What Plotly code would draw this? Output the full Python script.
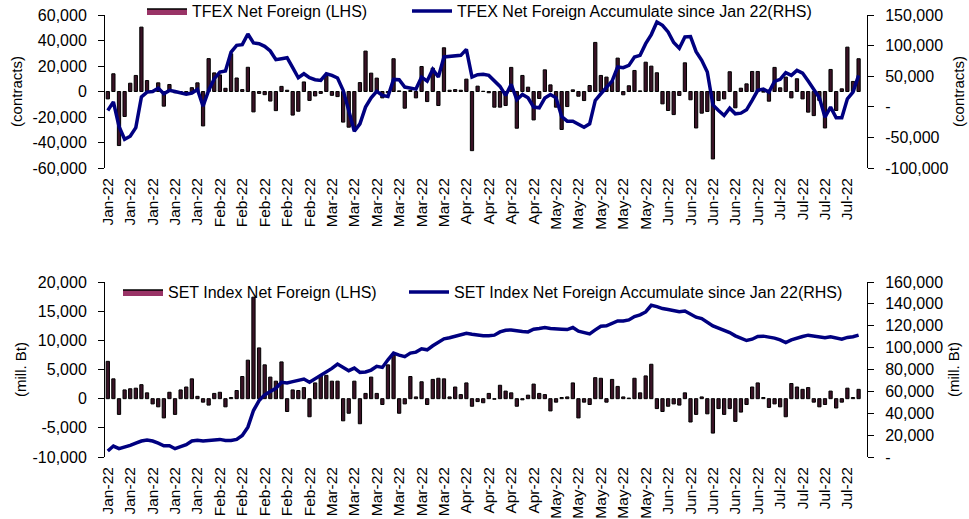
import plotly.graph_objects as go

# ---------------- data ----------------
tfex_net = [
    -5800, 13900, -42400, -19600, 6500, 12600, 50500, 8600, 300, 6800,
    -11500, 5500, -1000, -1500, -2000, 3000, 6800, -27000, 25800, 14600,
    13000, 2500, 29600, 10600, 1500, 19000, -16000, -1500, -2500, -7500,
    -15000, 4000, 1000, -18500, -15500, 7500, -7000, -3500, -1500, 12000,
    -3000, -4000, -24000, -28000, -30000, 7000, 31700, 14400, 10500, -5000,
    -1000, 25700, 500, -13100, 800, -5000, 19600, -7900, 18300, -11000,
    34300, 1000, 1500, 1000, 9700, -46400, 4200, 200, -1000, -12300,
    -12300, -11000, 18900, -28800, 12600, 3400, -22300, -5500, 17000, 5200,
    -12300, -29800, -11800, 1300, -3700, -7100, 4700, 38500, 12600, 11300,
    8000, 26200, -2600, 4500, 16500, 500, 23000, 19900, 14700, -9700,
    -14900, -18100, -3100, 22500, -6500, -28600, -17000, -15700, -52900, -7100,
    -5800, 15500, -12800, 2600, 6000, 15700, 15700, -500, -7600, 18900,
    2900, 11300, -5000, 10000, -5800, -16200, -18900, -7000, -28600, 17300,
    -14900, 2100, 34800, 7900, 25700,
]
tfex_acc = [
    -6000, 8000, -32000, -53000, -48000, -34000, 16000, 24000, 25000, 30500,
    21300, 26800, 25000, 23000, 20500, 22500, 28400, 1000, 26800, 45900,
    56800, 58400, 89500, 100500, 101600, 119000, 104300, 103200, 98800, 91200,
    77000, 78600, 80300, 63900, 47500, 54000, 47500, 44200, 43100, 54000,
    51300, 47000, 26800, -6000, -39900, -27800, -500, 14700, 25100, 18600,
    16900, 44800, 44200, 32200, 31100, 28900, 48600, 42000, 61200, 48600,
    81400, 82400, 83500, 84100, 93900, 48600, 52400, 53000, 51300, 43100,
    33300, 18600, 36600, 11500, 20200, 14700, -500, -1600, 14200, 20200,
    14700, -15800, -23500, -23500, -27800, -33300, -27800, 10400, 21300, 31100,
    42000, 65000, 63900, 67700, 81400, 84100, 103200, 118000, 138700, 133200,
    122300, 105000, 95600, 114100, 114700, 90000, 75900, 57000, 3000, -6000,
    -14200, -2200, -11500, -10400, -4900, 10400, 26800, 28900, 24000, 41500,
    44800, 55700, 51300, 59500, 55100, 42000, 29500, 14700, -16900, -500,
    -18000, -18000, 13100, 24000, 51300,
]
set_net = [
    6400, 3400, -2700, 1500, 1700, 1800, 2400, 1000, -900, -1400,
    -3300, 1100, -2700, 1500, 2000, 3400, 400, -600, -1100, 900,
    1100, -1400, 200, 1400, 3800, 6600, 17400, 8700, 5800, 3700,
    3000, 6300, -2200, 1500, 1400, 1900, -3100, 2700, 4000, 4000,
    3000, 3000, -3800, -2500, 3000, -4300, 900, 3700, 900, -1000,
    5800, 7500, -2500, -900, 3800, 300, 2900, -1000, 3300, 3500,
    3400, 300, 2000, 700, 2700, -1300, -500, -700, 900, -100,
    2300, 1300, 1000, -1300, -200, 600, 2500, 900, 700, -2100,
    -600, 200, 300, 2700, -3300, -600, -1000, 3600, 3500, -600,
    3300, 2100, 300, 100, 3500, 1000, 3900, 5900, -1700, -2200,
    -1300, -900, -1100, 1000, -4000, -2700, 300, -2600, -5900, -1700,
    -2700, -1700, -3900, -2300, -1000, 2000, 2700, 200, -1500, -900,
    -1400, -3100, 2600, 2000, 1600, 1900, -600, -1400, -1000, 1300,
    -1600, -600, 1800, 200, 1600,
]
set_acc = [
    5500, 10000, 7600, 8800, 10600, 12700, 14600, 15500, 14600, 12700,
    10300, 10300, 7600, 9400, 11200, 14600, 15200, 14600, 14900, 15500,
    16100, 15200, 15200, 16100, 19700, 27300, 42500, 51600, 56800, 59800,
    62800, 68300, 67700, 68900, 69800, 71300, 68300, 71300, 75000, 78000,
    81000, 85000, 82000, 78900, 81300, 77400, 77800, 79500, 82900, 81900,
    88900, 95000, 93200, 91700, 95000, 95900, 98900, 98000, 101700, 105300,
    108000, 109000, 110200, 111400, 113200, 112300, 111400, 110800, 110800, 111400,
    114400, 115900, 116200, 115300, 114700, 114400, 116800, 117500, 118400, 117500,
    116800, 116800, 116500, 118400, 115000, 113500, 112600, 116200, 119600, 119900,
    122500, 124400, 124400, 125300, 128400, 129900, 132600, 138700, 137500, 135700,
    134800, 133900, 132900, 133500, 130800, 127800, 126600, 123500, 119900, 117800,
    115900, 113800, 110800, 108300, 106500, 107700, 110200, 110500, 109900, 108700,
    107100, 104700, 107100, 109000, 110200, 111400, 110800, 109600, 109000, 109900,
    108700, 107700, 109300, 109900, 111400,
]
tick_labels = [
    "Jan-22", "Jan-22", "Jan-22", "Jan-22", "Jan-22",
    "Feb-22", "Feb-22", "Feb-22", "Feb-22", "Feb-22",
    "Mar-22", "Mar-22", "Mar-22", "Mar-22", "Mar-22", "Mar-22",
    "Apr-22", "Apr-22", "Apr-22", "Apr-22",
    "May-22", "May-22", "May-22", "May-22", "May-22",
    "Jun-22", "Jun-22", "Jun-22", "Jun-22", "Jun-22",
    "Jul-22", "Jul-22", "Jul-22", "Jul-22",
]
tfex_lhs_vals = [-60000, -40000, -20000, 0, 20000, 40000, 60000]
tfex_lhs_text = ["-60,000", "-40,000", "-20,000", "0", "20,000", "40,000", "60,000"]
tfex_rhs_vals = [-100000, -50000, 0, 50000, 100000, 150000]
tfex_rhs_text = ["-100,000", "-50,000", "-", "50,000", "100,000", "150,000"]
set_lhs_vals = [-10000, -5000, 0, 5000, 10000, 15000, 20000]
set_lhs_text = ["-10,000", "-5,000", "0", "5,000", "10,000", "15,000", "20,000"]
set_rhs_vals = [0, 20000, 40000, 60000, 80000, 100000, 120000, 140000, 160000]
set_rhs_text = ["-", "20,000", "40,000", "60,000", "80,000", "100,000", "120,000", "140,000", "160,000"]

# ---------------- styling ----------------
FONT = "Liberation Sans, Arial, sans-serif"
BAR_FILL = "#3a1226"
SWATCH_FILL = "#993366"
LINE_COL = "#000080"
N_CAT = 136
XR = [-0.5, N_CAT - 0.5]

x = list(range(len(tfex_net)))
label_pos = [4 * k for k in range(len(tick_labels))]
boundaries = [i + 0.5 for i in range(-1, N_CAT)]

# plot area in pixels: left 105, right 867, top 15, bottom 457
W, H = 969, 519
ML, MT = 105, 15
MR = W - 867
MB = H - 457
ph = H - MT - MB
pw = W - ML - MR
def py(pix):
    return (H - MB - pix) / ph
def px(pix):
    return (pix - ML) / pw

top_dom = [py(168), 1.0]
bot_dom = [0.0, py(282)]
top_zero = top_dom[0] + (0 - tfex_lhs_vals[0]) / (tfex_lhs_vals[-1] - tfex_lhs_vals[0]) * (top_dom[1] - top_dom[0])
bot_zero = bot_dom[0] + (0 - set_lhs_vals[0]) / (set_lhs_vals[-1] - set_lhs_vals[0]) * (bot_dom[1] - bot_dom[0])

fig = go.Figure()

fig.add_trace(go.Bar(x=x, y=tfex_net, xaxis="x", yaxis="y", marker=dict(color=BAR_FILL, line=dict(color="black", width=1)),
                     showlegend=False, name="TFEX Net Foreign (LHS)"))
fig.add_trace(go.Scatter(x=[None], y=[None], xaxis="x", yaxis="y", mode="lines", fill="toself", fillcolor=SWATCH_FILL,
                         line=dict(color="black", width=1.5), name="TFEX Net Foreign (LHS)", legend="legend"))
fig.add_trace(go.Scatter(x=x, y=tfex_acc, xaxis="x", yaxis="y2", mode="lines", line=dict(color=LINE_COL, width=3.5),
                         name="TFEX Net Foreign Accumulate since Jan 22(RHS)", legend="legend2"))

fig.add_trace(go.Bar(x=x, y=set_net, xaxis="x2", yaxis="y3", marker=dict(color=BAR_FILL, line=dict(color="black", width=1)),
                     showlegend=False, name="SET Index Net Foreign (LHS)"))
fig.add_trace(go.Scatter(x=[None], y=[None], xaxis="x2", yaxis="y3", mode="lines", fill="toself", fillcolor=SWATCH_FILL,
                         line=dict(color="black", width=1.5), name="SET Index Net Foreign (LHS)", legend="legend3"))
fig.add_trace(go.Scatter(x=x, y=set_acc, xaxis="x2", yaxis="y4", mode="lines", line=dict(color=LINE_COL, width=3.5),
                         name="SET Index Net Foreign Accumulate since Jan 22(RHS)", legend="legend4"))

tickfont = dict(family=FONT, size=16, color="black")
xfont = dict(family=FONT, size=15.5, color="black")
titlefont = dict(family=FONT, size=15, color="black")

def xlab(anchor):
    return dict(domain=[0, 1], anchor=anchor, range=XR, tickvals=label_pos, ticktext=tick_labels, tickangle=-90,
                tickfont=xfont, showline=False, ticks="", showgrid=False, zeroline=False, ticklabelstandoff=6)

def xzero(over, pos, side):
    return dict(overlaying=over, anchor="free", position=pos, range=XR, tickvals=boundaries, showticklabels=False,
                showline=True, linecolor="black", linewidth=1, ticks=side, ticklen=3, tickcolor="black",
                showgrid=False, zeroline=False)

def yax(dom, rng, vals, text, title, side="left", over=None, anchor="x", standoff=6):
    d = dict(range=rng, tickvals=vals, ticktext=text, tickfont=tickfont, showline=True, linecolor="black", linewidth=1,
             ticks="outside", ticklen=6, tickcolor="black", showgrid=False, zeroline=False, side=side,
             title=dict(text=title, font=titlefont, standoff=standoff), anchor=anchor, ticklabelstandoff=8,
             ticklabeloverflow="allow")
    if over:
        d["overlaying"] = over
    else:
        d["domain"] = dom
    return d

def leg(xpix, ypix):
    return dict(orientation="h", x=px(xpix), xanchor="left", y=py(ypix), yanchor="middle", itemwidth=40,
                font=dict(family=FONT, size=16, color="black"), bgcolor="rgba(0,0,0,0)")

fig.update_layout(
    width=W, height=H, autosize=False,
    margin=dict(l=ML, r=MR, t=MT, b=MB, autoexpand=False),
    paper_bgcolor="white", plot_bgcolor="white",
    font=dict(family=FONT, color="black"),
    bargap=0.42,
    xaxis=xlab("y"),
    xaxis2=xlab("y3"),
    xaxis3=xzero("x", top_zero, "outside"),
    xaxis4=xzero("x", top_zero, "inside"),
    xaxis5=xzero("x2", bot_zero, "outside"),
    xaxis6=xzero("x2", bot_zero, "inside"),
    yaxis=yax(top_dom, [tfex_lhs_vals[0], tfex_lhs_vals[-1]], tfex_lhs_vals, tfex_lhs_text, "(contracts)", standoff=6),
    yaxis2=yax(None, [tfex_rhs_vals[0], tfex_rhs_vals[-1]], tfex_rhs_vals, tfex_rhs_text, "(contracts)", side="right", over="y"),
    yaxis3=yax(bot_dom, [set_lhs_vals[0], set_lhs_vals[-1]], set_lhs_vals, set_lhs_text, "(mill. Bt)", anchor="x2", standoff=2),
    yaxis4=yax(None, [set_rhs_vals[0], set_rhs_vals[-1]], set_rhs_vals, set_rhs_text, "(mill. Bt)", side="right", over="y3", anchor="x2"),
    legend=leg(142, 11),
    legend2=leg(407, 11),
    legend3=leg(118, 292),
    legend4=leg(404, 292),
)

# remove the browser's default 8px body margin so the figure fills the window exactly
fig.write_html("out.html", config={"displayModeBar": False},
               post_script="document.body.style.margin='0px';")
